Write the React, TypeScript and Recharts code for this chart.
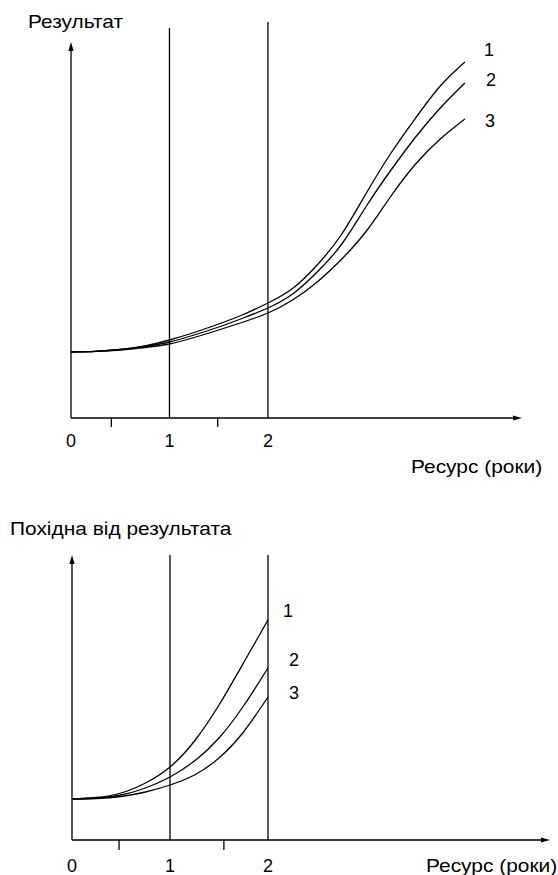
import { LineChart, Line, XAxis, YAxis, ReferenceLine, ReferenceDot } from 'recharts'

// верхній графік: результат
const years = [0, 0.25, 0.5, 0.75, 1, 1.25, 1.5, 1.75, 2, 2.25, 2.5, 2.75, 3, 3.25, 3.5, 3.75, 4]
const result1 = [66, 66.7, 68.5, 72, 78, 85.5, 94, 103.5, 115, 129.5, 153, 184, 225, 265, 300, 332, 356]
const result2 = [66, 66.7, 68.5, 71.5, 76, 83, 91, 100, 110, 124, 146, 174, 212, 248, 281, 310, 335]
const result3 = [66, 66.6, 68, 70.5, 74, 80.5, 88, 96, 105, 118, 136, 159, 187, 222, 254, 279, 299]

// нижній графік: похідна
const yearsD = [0, 0.25, 0.5, 0.75, 1, 1.25, 1.5, 1.75, 2]
const deriv1 = [41, 42.5, 47, 57, 73, 99, 135, 177, 220]
const deriv2 = [41, 42, 45, 52, 63, 79, 102, 134, 172]
const deriv3 = [41, 41.5, 43.5, 48, 55, 65, 82, 108, 143]

const seriesNames = ['1', '2', '3']
const ticksTop = [0, 0.41, 1, 1.49, 2]
const ticksBottom = [0, 0.48, 1, 1.55, 2]
const markers = [1, 2]

const font = '"Liberation Sans", Arial, sans-serif'
const ink = '#000'

const topData = years.map((x, i) => ({ x, s1: result1[i], s2: result2[i], s3: result3[i] }))
const bottomData = yearsD.map((x, i) => ({ x, s1: deriv1[i], s2: deriv2[i], s3: deriv3[i] }))

const Arrow = (props: any) => {
  const { x1, y1, x2, y2 } = props
  const dx = x2 - x1
  const dy = y2 - y1
  const len = Math.hypot(dx, dy) || 1
  const ux = dx / len
  const uy = dy / len
  const L = 9
  const W = 2.6
  const bx = x2 - ux * L
  const by = y2 - uy * L
  return (
    <g>
      <line x1={x1} y1={y1} x2={bx + ux * 2} y2={by + uy * 2} stroke={ink} strokeWidth={1.3} />
      <polygon
        points={`${x2},${y2} ${bx - uy * W},${by + ux * W} ${bx + uy * W},${by - ux * W}`}
        fill={ink}
      />
    </g>
  )
}

const Plain = (props: any) => (
  <line x1={props.x1} y1={props.y1} x2={props.x2} y2={props.y2} stroke={ink} strokeWidth={1.3} />
)

const makeTick = (labelDy: number, minorLen: number) => (props: any) => {
  const { x, y, payload } = props
  const v = payload.value
  if (Number.isInteger(v)) {
    return (
      <text x={x} y={y + labelDy} textAnchor="middle" fontSize={18} fontFamily={font} fill={ink}>
        {v}
      </text>
    )
  }
  return <line x1={x} y1={y} x2={x} y2={y + minorLen} stroke={ink} strokeWidth={1.3} />
}

const endLabel = (name: string, dx: number, dy: number) => (p: any) => (
  <text x={p.cx + dx} y={p.cy + dy} textAnchor="middle" fontSize={18} fontFamily={font} fill={ink}>
    {name}
  </text>
)

const topOffsets = [
  [24, -6],
  [26, 3],
  [25, 8],
]
const bottomOffsets = [
  [20, -3],
  [26, -2],
  [26, 2],
]

const label = (text: string, left: number, top: number) => (
  <div
    style={{
      position: 'absolute',
      left,
      top,
      fontFamily: font,
      fontSize: 19,
      lineHeight: 1,
      color: ink,
      whiteSpace: 'nowrap',
      transform: 'scaleX(1.1)',
      transformOrigin: 'left top',
    }}
  >
    {text}
  </div>
)

export default function App() {
  const topSeries = [result1, result2, result3]
  const bottomSeries = [deriv1, deriv2, deriv3]
  return (
    <div style={{ position: 'absolute', left: 0, top: 0, width: 558, height: 875, background: '#fff', overflow: 'hidden' }}>
      <div style={{ position: 'absolute', left: 0, top: 0 }}>
        <LineChart width={558} height={460} data={topData} margin={{ top: 22, right: 36, left: 71, bottom: 2 }}>
          <XAxis
            dataKey="x"
            type="number"
            domain={[0, 4.58]}
            ticks={ticksTop}
            interval={0}
            axisLine={false}
            tickLine={false}
            tickSize={0}
            tickMargin={0}
            height={40}
            tick={makeTick(29, 9)}
            allowDataOverflow
          />
          <YAxis type="number" domain={[0, 396]} hide allowDataOverflow />
          <ReferenceLine segment={[{ x: 0, y: 0 }, { x: 4.58, y: 0 }]} shape={Arrow} ifOverflow="visible" />
          <ReferenceLine segment={[{ x: 0, y: 0 }, { x: 0, y: 376 }]} shape={Arrow} ifOverflow="visible" />
          <ReferenceLine segment={[{ x: markers[0], y: 0 }, { x: markers[0], y: 390 }]} shape={Plain} ifOverflow="visible" />
          <ReferenceLine segment={[{ x: markers[1], y: 0 }, { x: markers[1], y: 396 }]} shape={Plain} ifOverflow="visible" />
          {['s1', 's2', 's3'].map((k) => (
            <Line key={k} dataKey={k} type="natural" stroke={ink} strokeWidth={1.3} dot={false} isAnimationActive={false} />
          ))}
          {topSeries.map((s, i) => (
            <ReferenceDot
              key={i}
              x={years[years.length - 1]}
              y={s[s.length - 1]}
              r={0}
              ifOverflow="visible"
              shape={endLabel(seriesNames[i], topOffsets[i][0], topOffsets[i][1])}
            />
          ))}
        </LineChart>
      </div>
      <div style={{ position: 'absolute', left: 0, top: 500 }}>
        <LineChart width={558} height={375} data={bottomData} margin={{ top: 55, right: 8, left: 72, bottom: 5 }}>
          <XAxis
            dataKey="x"
            type="number"
            domain={[0, 4.878]}
            ticks={ticksBottom}
            interval={0}
            axisLine={false}
            tickLine={false}
            tickSize={0}
            tickMargin={0}
            height={30}
            tick={makeTick(32, 10)}
            allowDataOverflow
          />
          <YAxis type="number" domain={[0, 285]} hide allowDataOverflow />
          <ReferenceLine segment={[{ x: 0, y: 0 }, { x: 4.878, y: 0 }]} shape={Arrow} ifOverflow="visible" />
          <ReferenceLine segment={[{ x: 0, y: 0 }, { x: 0, y: 285 }]} shape={Arrow} ifOverflow="visible" />
          <ReferenceLine segment={[{ x: markers[0], y: 0 }, { x: markers[0], y: 285 }]} shape={Plain} ifOverflow="visible" />
          <ReferenceLine segment={[{ x: markers[1], y: 0 }, { x: markers[1], y: 285 }]} shape={Plain} ifOverflow="visible" />
          {['s1', 's2', 's3'].map((k) => (
            <Line key={k} dataKey={k} type="natural" stroke={ink} strokeWidth={1.3} dot={false} isAnimationActive={false} />
          ))}
          {bottomSeries.map((s, i) => (
            <ReferenceDot
              key={i}
              x={yearsD[yearsD.length - 1]}
              y={s[s.length - 1]}
              r={0}
              ifOverflow="visible"
              shape={endLabel(seriesNames[i], bottomOffsets[i][0], bottomOffsets[i][1])}
            />
          ))}
        </LineChart>
      </div>
      {label('Результат', 28, 12)}
      {label('Ресурс (роки)', 411, 457)}
      {label('Похідна від результата', 10, 519)}
      {label('Ресурс (роки)', 426, 856)}
    </div>
  )
}
